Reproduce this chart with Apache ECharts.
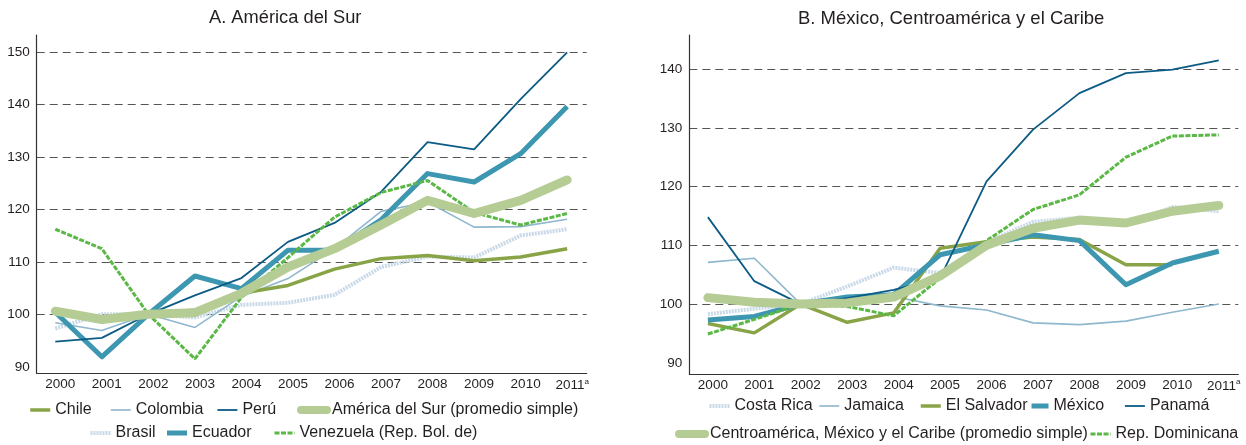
<!DOCTYPE html>
<html><head><meta charset="utf-8">
<script src="https://cdn.jsdelivr.net/npm/echarts@6/dist/echarts.min.js"></script>
<style>html,body{margin:0;padding:0;background:#fff}#c{width:1246px;height:445px}</style>
</head><body><div id="c"></div>
<script>
const years = [2000,2001,2002,2003,2004,2005,2006,2007,2008,2009,2010,2011];
const yTicksLabels = [90,100,110,120,130,140,150];
const yTicksLabelsB = [90,100,110,120,130,140];
// Panel A
const chile     = [100.5, 99.3, 100, 100.8, 104.0, 105.5, 108.6, 110.6, 111.2, 110.2, 110.9, 112.5];
const colombia  = [98.4, 96.9, 100, 97.5, 103.4, 106.8, 112.5, 119.6, 121.4, 116.6, 116.7, 118.1];
const peru      = [94.8, 95.5, 100, 103.6, 106.9, 113.8, 117.4, 123.3, 132.8, 131.4, 141.0, 149.9];
const promSur   = [100.6, 99.0, 100, 100.3, 104.0, 109.0, 112.5, 117.0, 121.7, 119.2, 121.7, 125.6];
const brasil    = [97.3, 100.0, 100, 99.4, 101.8, 102.2, 103.7, 109.0, 111.0, 110.8, 115.0, 116.2];
const ecuador   = [100.4, 91.9, 100, 107.3, 104.9, 112.2, 112.2, 118.0, 126.8, 125.2, 130.6, 139.6];
const venezuela = [116.2, 112.5, 100, 91.5, 103.2, 110.8, 118.5, 123.2, 125.5, 119.4, 117.0, 119.2];
// Panel B
const costaRica = [98.3, 99.2, 100, 103.0, 106.2, 105.3, 110.5, 114.0, 114.7, 113.5, 116.5, 115.8];
const jamaica   = [107.1, 107.8, 100, 100.6, 101.3, 99.7, 99.0, 96.8, 96.5, 97.1, 98.6, 100.0];
const elSalvador= [96.7, 95.1, 100, 96.9, 98.5, 109.5, 110.6, 111.4, 111.0, 106.7, 106.7, null];
const mexico    = [97.3, 97.9, 100, 101.2, 101.6, 108.4, 110.1, 111.8, 110.8, 103.3, 107.0, 109.0];
const panama    = [114.8, 103.9, 100, 101.0, 102.4, 104.4, 120.9, 129.7, 135.9, 139.3, 139.9, 141.5];
const promCentro= [101.1, 100.3, 100, 100.2, 101.2, 104.8, 110.0, 112.9, 114.3, 113.8, 115.8, 116.8];
const repDom    = [94.9, 97.4, 100, 99.6, 98.0, 104.4, 110.8, 116.1, 118.6, 125.0, 128.6, 128.8];

const FONT = 'Liberation Sans, Arial, sans-serif';
const TXT = '#231f20';
const C = {
  olive:'#88a447', light:'#8fb7cd', dark:'#0b5b85', sage:'#b6cc95',
  pale:'#c9d9e8', teal:'#3d97b1', green:'#5bb846'
};
const S = {
  olive:{color:C.olive,width:3.5},
  light:{color:C.light,width:1.6},
  dark:{color:C.dark,width:1.8},
  sage:{color:C.sage,width:9,cap:'round',join:'round'},
  pale:{color:C.pale,width:4,type:[2,1]},
  teal:{color:C.teal,width:5,join:'round'},
  green:{color:C.green,width:3,type:[5,1.5]}
};
function mk(name, vals, st, idx, z){
  return {
    name, type:'line', xAxisIndex:idx, yAxisIndex:idx, symbol:'none', z:z,
    data: years.map((y,i)=>[y, vals[i]]), connectNulls:false,
    lineStyle: Object.assign({}, st), itemStyle:{color:st.color},
    emphasis:{disabled:true}, animation:false
  };
}
const series = [
  mk('Brasil', brasil, S.pale, 0, 1),
  mk('Colombia', colombia, S.light, 0, 2),
  mk('Chile', chile, S.olive, 0, 3),
  mk('Ecuador', ecuador, S.teal, 0, 4),
  mk('Perú', peru, S.dark, 0, 5),
  mk('Venezuela (Rep. Bol. de)', venezuela, S.green, 0, 6),
  mk('América del Sur (promedio simple)', promSur, S.sage, 0, 7),
  mk('Costa Rica', costaRica, S.pale, 1, 1),
  mk('Jamaica', jamaica, S.light, 1, 2),
  mk('El Salvador', elSalvador, S.olive, 1, 3),
  mk('México', mexico, S.teal, 1, 4),
  mk('Panamá', panama, S.dark, 1, 5),
  mk('Rep. Dominicana', repDom, S.green, 1, 6),
  mk('Centroamérica, México y el Caribe (promedio simple)', promCentro, S.sage, 1, 7)
];
function xAx(idx){
  return {
    type:'value', gridIndex:idx, min:1999.6, max:2011.42,
    axisLine:{show:true,lineStyle:{color:'#333',width:1.2}},
    axisTick:{show:false}, splitLine:{show:false},
    axisLabel:{
      customValues: years, margin:4, padding:[0,0,0,10],
      formatter: v => v===2011 ? '{y|2011}{s|a}' : '{y|'+v+'}',
      rich:{ y:{fontSize:13.5,fontFamily:FONT,color:TXT}, s:{fontSize:8,fontFamily:FONT,color:TXT,padding:[0,0,8,0]} }
    }
  };
}
function yAx(idx, min, max, labels){
  return {
    type:'value', gridIndex:idx, min, max,
    axisLine:{show:true,lineStyle:{color:'#333',width:1.2}},
    axisTick:{show:false, customValues: labels.slice(1)},
    splitLine:{show:true,lineStyle:{color:'#555',width:1,type:[8,5]}},
    axisLabel:{customValues: labels, fontSize:13.5, fontFamily:FONT, color:TXT, margin:7}
  };
}
const styleOf = {};
series.forEach(s => { styleOf[s.name] = s.lineStyle; });
// [name, text start x, row centre y, icon width]
const legendItems = [
  ['Chile',53.5,411,20],['Colombia',135,411,20],['Perú',241.5,411,20],['América del Sur (promedio simple)',328,411,26],
  ['Brasil',113.5,434,20],['Ecuador',189.5,434,20],['Venezuela (Rep. Bol. de)',298,434,20],
  ['Costa Rica',732.5,407,20],['Jamaica',843.5,407,20],['El Salvador',944,407,20],['México',1051,407,17],['Panamá',1149,407,20],
  ['Centroamérica, México y el Caribe (promedio simple)',706,435,26],['Rep. Dominicana',1114,435,20]
];
const IH = 14;
const legends = legendItems.map(([n,tx,cy,iw]) => {
  const st = styleOf[n];
  return {
    data:[n], left: tx - 5 - iw, top: cy - 9, padding:0, itemGap:0,
    itemWidth: iw, itemHeight: IH, selectedMode:false,
    itemStyle:{opacity:0},
    lineStyle:{width: Math.min(st.width, 8), type: st.type || 'solid', cap: st.cap || 'butt', color: st.color},
    textStyle:{fontSize:16,fontFamily:FONT,color:TXT}
  };
});
const chart = echarts.init(document.getElementById('c'), null, {renderer:'canvas'});
chart.setOption({
  animation:false,
  title:[
    {text:'A. América del Sur', left:209, top:9, padding:0, textStyle:{fontSize:18.3,fontWeight:'normal',fontFamily:FONT,color:TXT}},
    {text:'B. México, Centroamérica y el Caribe', left:798, top:9, padding:0, textStyle:{fontSize:18.5,fontWeight:'normal',fontFamily:FONT,color:TXT}}
  ],
  grid:[
    {left:36.7, top:35, width:550, height:338.3},
    {left:689.3, top:35, width:549, height:339}
  ],
  xAxis:[xAx(0), xAx(1)],
  yAxis:[yAx(0, 88.76, 153.2, yTicksLabels), yAx(1, 88.1, 145.8, yTicksLabelsB)],
  legend: legends,
  series
});
</script></body></html>
